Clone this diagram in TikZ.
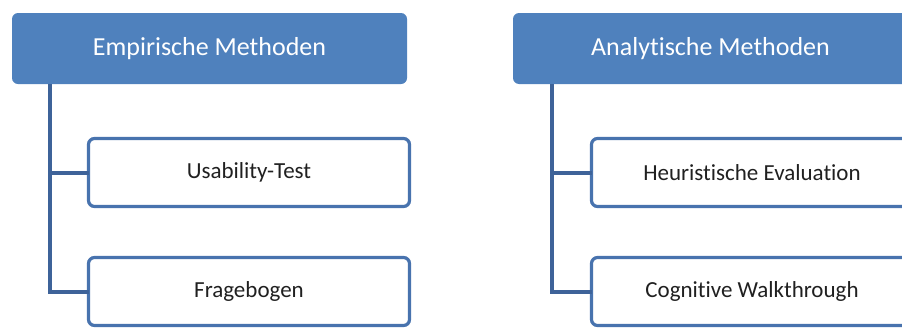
\documentclass[tikz,border=0pt]{standalone}
\usepackage{fontspec}
\setmainfont[Ligatures={NoCommon}]{Carlito}
\usepackage{xcolor}
\usetikzlibrary{positioning,calc}

\definecolor{hdrblue}{HTML}{4F81BD}
\definecolor{boxblue}{HTML}{4873AE}
\definecolor{lineblue}{HTML}{3E6399}
\definecolor{txtgray}{HTML}{202020}

\begin{document}
\begin{tikzpicture}[x=1pt, y=-1pt,
    % ---------- estilos ----------
    hdr/.style={draw=none, rounded corners=6pt, fill=hdrblue, text=white,
      minimum width=395pt, minimum height=71pt, inner sep=0pt, outer sep=0pt,
      font=\fontsize{26}{30}\selectfont},
    cbox/.style={draw=boxblue, line width=3.2pt, rounded corners=6pt, fill=white,
      minimum width=321pt, minimum height=68pt, inner sep=0pt, outer sep=0pt,
      text=txtgray, font=\fontsize{23}{27}\selectfont},
    conn/.style={draw=lineblue, line width=4pt}
]

\def\colE{209.5}
\def\colA{710.5}

\useasboundingbox (0,0) rectangle (902,327);
\clip (0,0) rectangle (902,327);

% ====== Kopfzeilen ======
\node[hdr] (hdrE) at (\colE, 48.5) {Empirische Methoden};
\node[hdr] (hdrA) at (\colA, 48.5) {Analytische Methoden};

% ====== Empirische Methoden ======
\node[cbox] (ut) at (249, 172.5) {Usability-Test};
\node[cbox] (fb) at (249, 291.5) {Fragebogen};

% ====== Analytische Methoden ======
\node[cbox] (he) at (752, 172.5) {Heuristische Evaluation};
\node[cbox] (cw) at (752, 291.5) {Cognitive Walkthrough};

% ====== Verbindungen ======
\draw[conn] ([xshift=38pt]hdrE.south west) |- (fb.west);
\draw[conn] ([xshift=38pt]hdrE.south west) |- (ut.west);
\draw[conn] ([xshift=39pt]hdrA.south west) |- (cw.west);
\draw[conn] ([xshift=39pt]hdrA.south west) |- (he.west);

\end{tikzpicture}
\end{document}
